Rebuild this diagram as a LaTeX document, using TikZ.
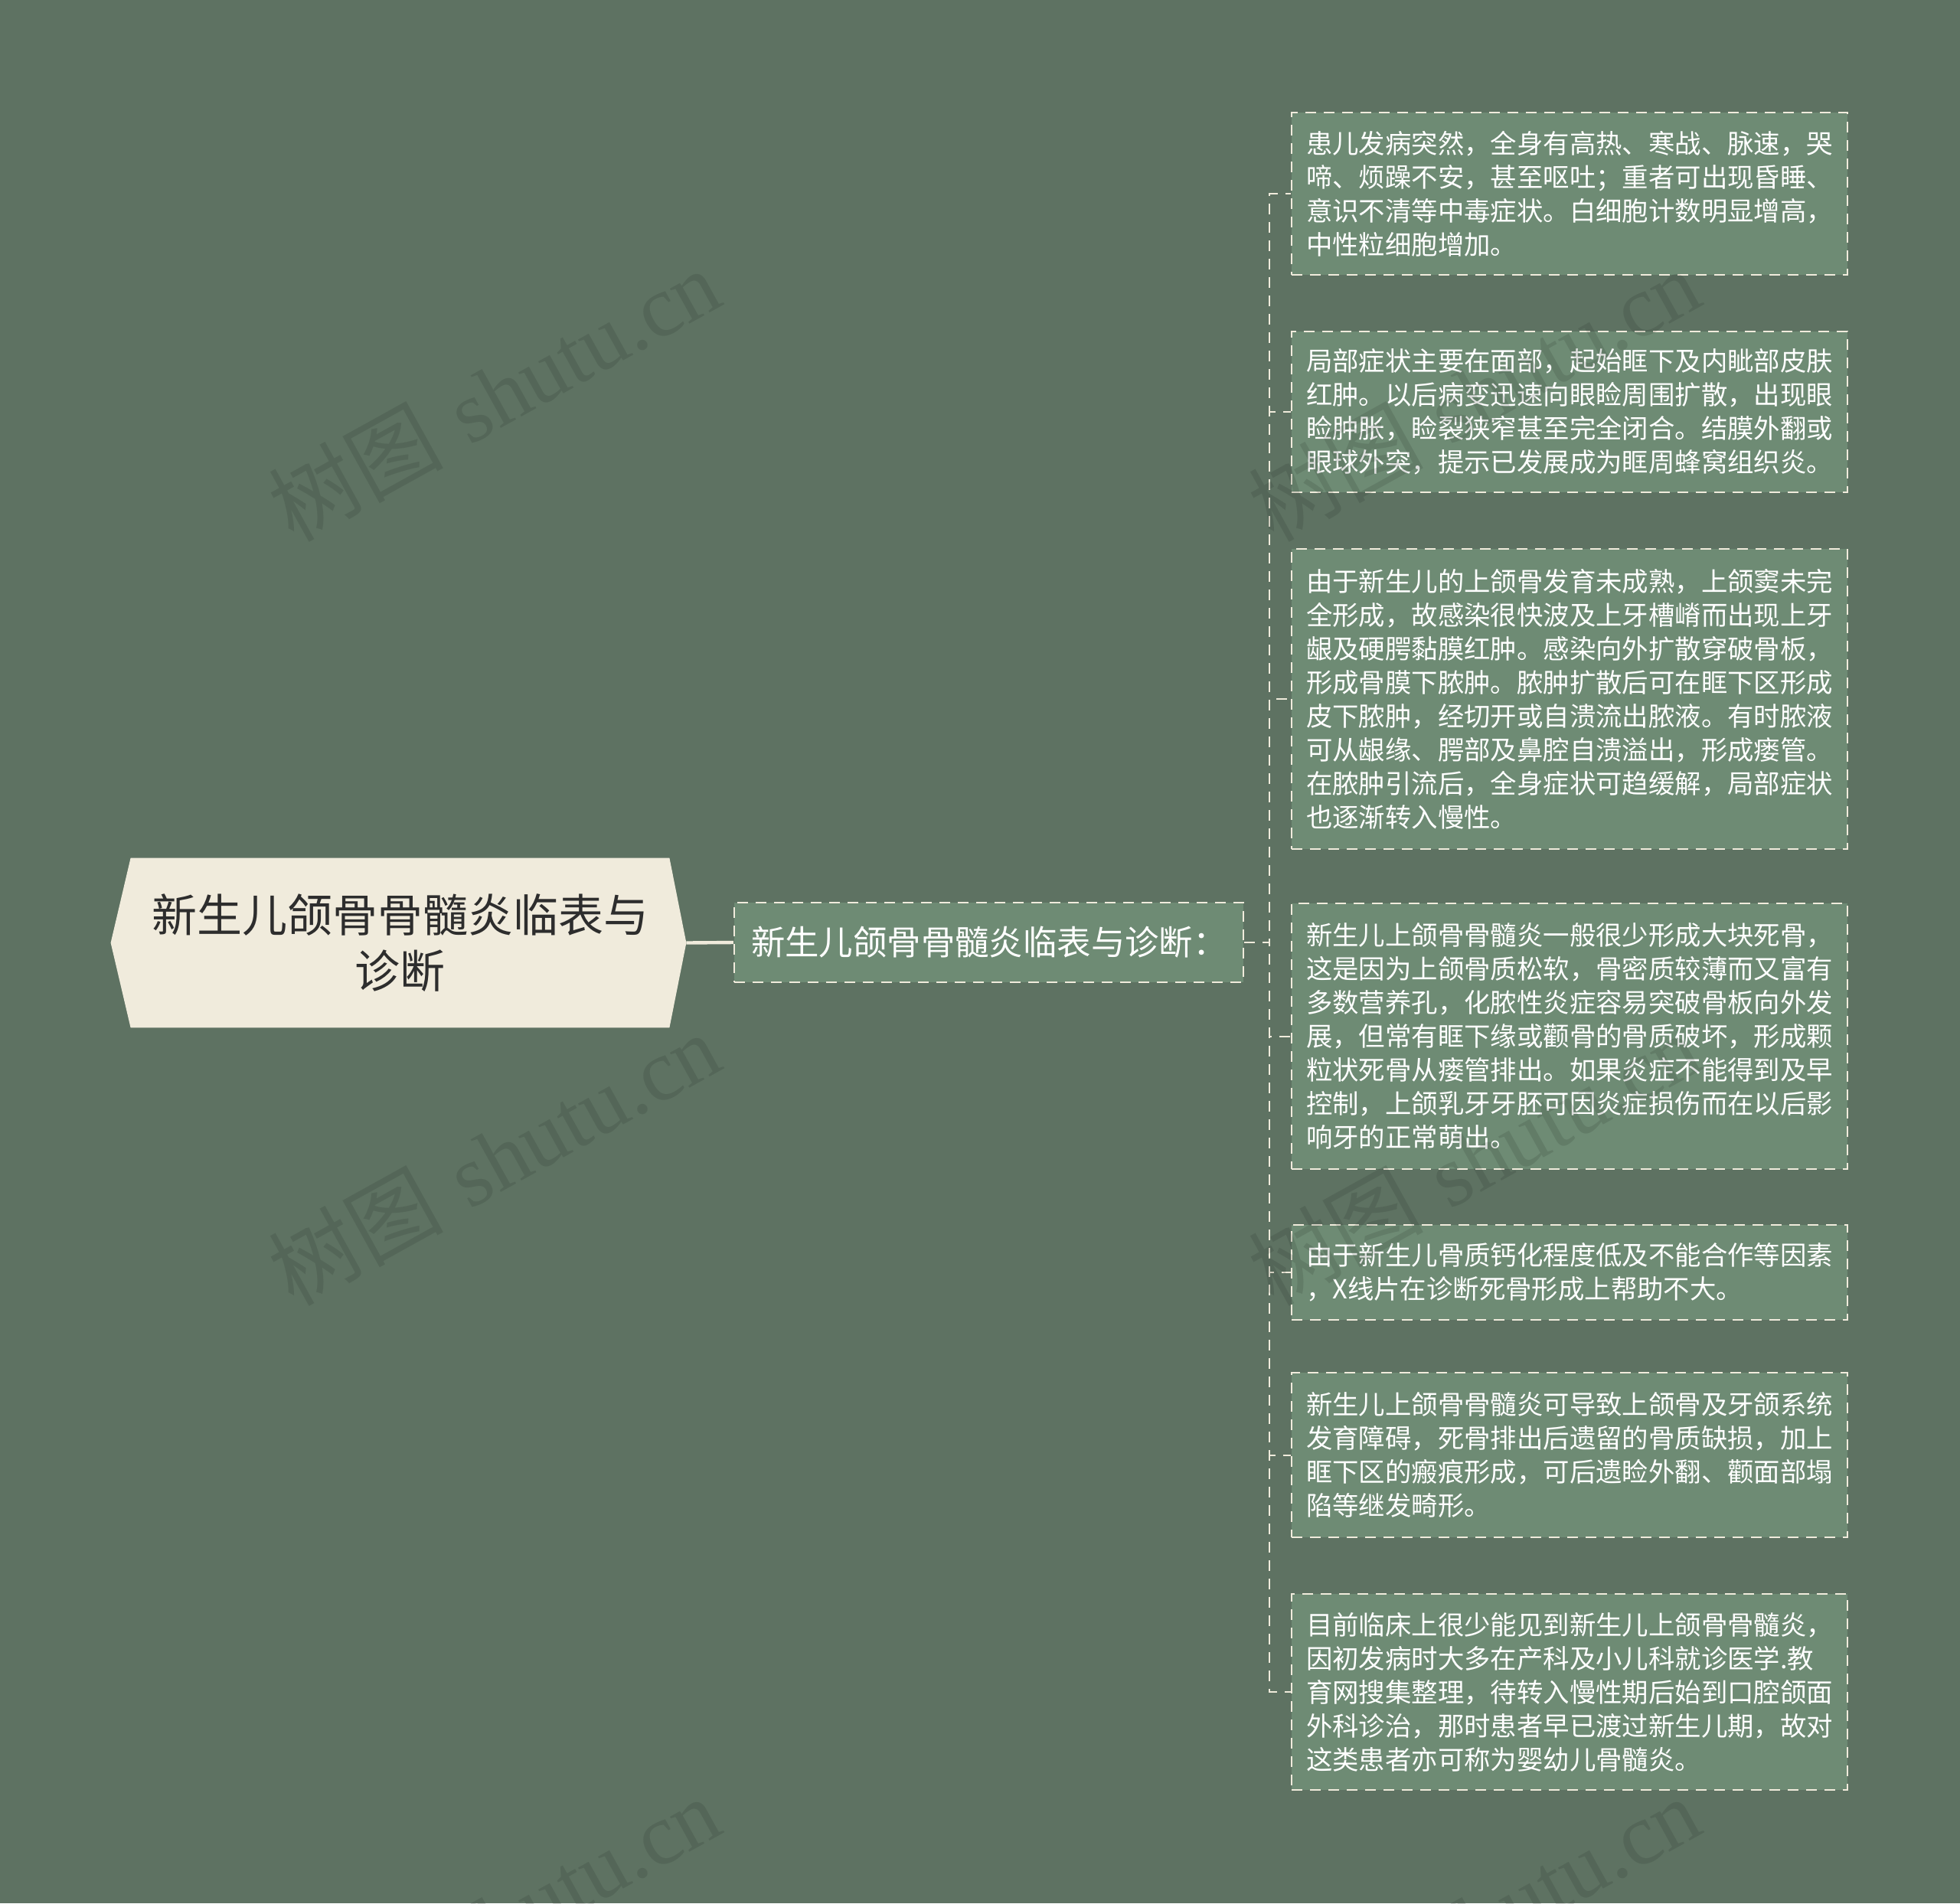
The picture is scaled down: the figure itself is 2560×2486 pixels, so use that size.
\documentclass[tikz,border=0pt]{standalone}
\usepackage{fontspec}
\newfontfamily\cjk{Noto Sans CJK SC}
\newfontfamily\wmlat{Liberation Serif}
\usetikzlibrary{backgrounds}
\definecolor{bgc}{RGB}{94,114,98}
\definecolor{leaffill}{RGB}{110,139,116}
\definecolor{creamc}{RGB}{240,235,220}
\definecolor{roottext}{RGB}{45,45,45}
\definecolor{wmc}{RGB}{30,40,32}
\tikzset{
  rootbox/.style={rectangle, inner sep=0pt, minimum width=351.5pt, minimum height=110.5pt,
    align=center, text=roottext, font=\cjk\fontsize{29.5}{36.5}\selectfont},
  midbox/.style={rectangle, draw=creamc, fill=leaffill, line width=1.2pt,
    dash pattern=on 7pt off 5pt, inner xsep=11pt, inner ysep=0pt,
    text width=310.5pt, minimum height=52pt, align=left, text=white,
    font=\cjk\fontsize{22.2}{26}\selectfont},
  leafbox/.style={rectangle, draw=creamc, fill=leaffill, line width=1.2pt,
    dash pattern=on 7pt off 5pt, inner xsep=9.5pt, inner ysep=0pt,
    text width=344pt, align=left, text=white,
    font=\cjk\fontsize{17.2}{22}\selectfont},
  conn/.style={draw=creamc, line width=1pt, dash pattern=on 7pt off 5pt},
  rootconn/.style={draw=creamc, line width=2.2pt},
  wmark/.style={text=wmc, opacity=0.15, rotate=29, inner sep=0pt,
    font=\fontsize{57}{57}\selectfont}
}
\begin{document}
\begin{tikzpicture}[x=0.5pt,y=-0.5pt]
\useasboundingbox (0,0) rectangle (2560,2486);

\node[rootbox] (root) at (522.5,1231.5) {新生儿颌骨骨髓炎临表与\\诊断};
\begin{pgfonlayer}{background}
  \fill[bgc] (0,0) rectangle (2560,2486);
  \fill[creamc] ([xshift=-13pt]root.west) -- (root.north west) -- (root.north east)
     -- ([xshift=11pt]root.east) -- (root.south east) -- (root.south west) -- cycle;
\end{pgfonlayer}

\node[midbox] (mid) at (1291.5,1231) {新生儿颌骨骨髓炎临表与诊断：};

\node[leafbox, minimum height=106pt] (l1) at (2050,253) {患儿发病突然，全身有高热、寒战、脉速，哭\\啼、烦躁不安，甚至呕吐；重者可出现昏睡、\\意识不清等中毒症状。白细胞计数明显增高，\\中性粒细胞增加。};
\node[leafbox, minimum height=105pt] (l2) at (2050,538) {局部症状主要在面部，起始眶下及内眦部皮肤\\红肿。以后病变迅速向眼睑周围扩散，出现眼\\睑肿胀，睑裂狭窄甚至完全闭合。结膜外翻或\\眼球外突，提示已发展成为眶周蜂窝组织炎。};
\node[leafbox, minimum height=196pt] (l3) at (2050,913) {由于新生儿的上颌骨发育未成熟，上颌窦未完\\全形成，故感染很快波及上牙槽嵴而出现上牙\\龈及硬腭黏膜红肿。感染向外扩散穿破骨板，\\形成骨膜下脓肿。脓肿扩散后可在眶下区形成\\皮下脓肿，经切开或自溃流出脓液。有时脓液\\可从龈缘、腭部及鼻腔自溃溢出，形成瘘管。\\在脓肿引流后，全身症状可趋缓解，局部症状\\也逐渐转入慢性。};
\node[leafbox, minimum height=173.5pt] (l4) at (2050,1353.5) {新生儿上颌骨骨髓炎一般很少形成大块死骨，\\这是因为上颌骨质松软，骨密质较薄而又富有\\多数营养孔，化脓性炎症容易突破骨板向外发\\展，但常有眶下缘或颧骨的骨质破坏，形成颗\\粒状死骨从瘘管排出。如果炎症不能得到及早\\控制，上颌乳牙牙胚可因炎症损伤而在以后影\\响牙的正常萌出。};
\node[leafbox, minimum height=62pt] (l5) at (2050,1662) {由于新生儿骨质钙化程度低及不能合作等因素\\，X线片在诊断死骨形成上帮助不大。};
\node[leafbox, minimum height=107.5pt] (l6) at (2050,1900.5) {新生儿上颌骨骨髓炎可导致上颌骨及牙颌系统\\发育障碍，死骨排出后遗留的骨质缺损，加上\\眶下区的瘢痕形成，可后遗睑外翻、颧面部塌\\陷等继发畸形。};
\node[leafbox, minimum height=128pt] (l7) at (2050,2210) {目前临床上很少能见到新生儿上颌骨骨髓炎，\\因初发病时大多在产科及小儿科就诊医学.教\\育网搜集整理，待转入慢性期后始到口腔颌面\\外科诊治，那时患者早已渡过新生儿期，故对\\这类患者亦可称为婴幼儿骨髓炎。};

\begin{pgfonlayer}{background}
  \draw[rootconn] ([xshift=11pt]root.east) -- (mid.west);
  \foreach \n in {l1,l2,l3,l4,l5,l6,l7}
    \draw[conn] (mid.east) -- ++(33,0) |- (\n.west);
\end{pgfonlayer}

\foreach \dx/\dy [count=\i] in {0/0,1280/0,0/998,1280/998,0/1996,1280/1996}
  \node[wmark] (wm\i) at (645+\dx,515+\dy) {{\cjk 树图} {\wmlat shutu.cn}};
\end{tikzpicture}
\end{document}
